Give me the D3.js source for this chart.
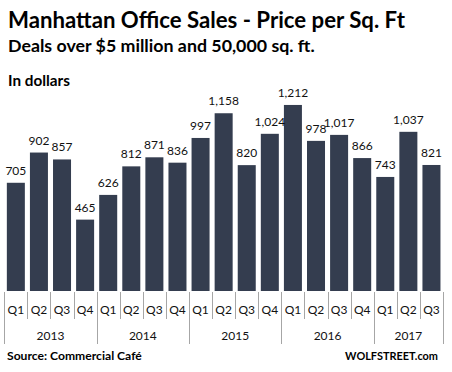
<!DOCTYPE html>
<html>
<head>
<meta charset="utf-8">
<script src="https://cdn.jsdelivr.net/npm/d3@7"></script>
<style>
  body { margin: 0; background: #fff; }
  svg { display: block; }
</style>
</head>
<body>
<svg id="chart1" width="452" height="372"></svg>
<script>
// data
var quarters = ["Q1","Q2","Q3","Q4","Q1","Q2","Q3","Q4","Q1","Q2","Q3","Q4","Q1","Q2","Q3","Q4","Q1","Q2","Q3"];
var years = ["2013","2013","2013","2013","2014","2014","2014","2014","2015","2015","2015","2015","2016","2016","2016","2016","2017","2017","2017"];
var prices = [705, 902, 857, 465, 626, 812, 871, 836, 997, 1158, 820, 1024, 1212, 978, 1017, 866, 743, 1037, 821];

var width = 452;
var height = 372;
var fontFam = "Lato, 'Open Sans', sans-serif";

var svg = d3.select("#chart1");

var keys = prices.map((d, i) => years[i] + quarters[i]);

var x = d3.scaleBand()
    .domain(keys)
    .range([4.3, 443])
    .paddingInner(0.22)
    .paddingOuter(0.11);

var y = d3.scaleLinear()
    .domain([0, 1400])
    .range([291, 76.1]);

// fit text to a target width by changing font size
function fit(sel, w) {
    var node = sel.node();
    var fs = parseFloat(sel.attr("font-size"));
    var len = node.getComputedTextLength();
    sel.attr("font-size", (fs * w / len).toFixed(2));
    return sel;
}

// titles
fit(svg.append("text")
    .attr("x", 8).attr("y", 28)
    .attr("font-family", fontFam).attr("font-weight", "bold")
    .attr("font-size", 20)
    .text("Manhattan Office Sales - Price per Sq. Ft"), 397);

fit(svg.append("text")
    .attr("x", 8).attr("y", 52)
    .attr("font-family", fontFam).attr("font-weight", "bold")
    .attr("font-size", 16)
    .text("Deals over $5 million and 50,000 sq. ft."), 307);

fit(svg.append("text")
    .attr("x", 8).attr("y", 86)
    .attr("font-family", fontFam).attr("font-weight", "bold")
    .attr("font-size", 13)
    .text("In dollars"), 62);

// bars
svg.append("g")
    .selectAll("rect")
    .data(prices)
    .enter()
    .append("rect")
    .attr("x", (d, i) => x(keys[i]))
    .attr("y", d => y(d))
    .attr("width", x.bandwidth())
    .attr("height", d => y(0) - y(d))
    .attr("fill", "#343d4f");

var fmt = d3.format(",");
svg.append("g")
    .selectAll("text")
    .data(prices)
    .enter()
    .append("text")
    .attr("x", (d, i) => x(keys[i]) + x.bandwidth() / 2)
    .attr("y", d => y(d) - 8)
    .attr("text-anchor", "middle")
    .attr("font-family", fontFam)
    .attr("font-size", 12)
    .attr("fill", "#111")
    .text(d => fmt(d));

// category axis: quarter separators and year separators
var axisG = svg.append("g");
var step = x.step();
var left = x(keys[0]) - x.paddingOuter() * step;
var edges = d3.range(keys.length + 1).map(i => left + i * step);

axisG.selectAll("line")
    .data(edges)
    .enter()
    .append("line")
    .attr("x1", d => Math.round(d) + 0.5)
    .attr("x2", d => Math.round(d) + 0.5)
    .attr("y1", 292)
    .attr("y2", (d, i) => (i === 0 || i === keys.length || quarters[i] === "Q1") ? 344 : 319)
    .attr("stroke", "#a6a6a6")
    .attr("stroke-width", 1);

axisG.selectAll("text.q")
    .data(quarters)
    .enter()
    .append("text")
    .attr("class", "q")
    .attr("x", (d, i) => x(keys[i]) + x.bandwidth() / 2)
    .attr("y", 314)
    .attr("text-anchor", "middle")
    .attr("font-family", fontFam)
    .attr("font-size", 12)
    .attr("fill", "#111")
    .text(d => d);

var yearNames = Array.from(new Set(years));
axisG.selectAll("text.yr")
    .data(yearNames)
    .enter()
    .append("text")
    .attr("class", "yr")
    .attr("x", yr => {
        var idx = years.map((v, i) => v === yr ? i : -1).filter(i => i >= 0);
        return (edges[idx[0]] + edges[idx[idx.length - 1] + 1]) / 2;
    })
    .attr("y", 340)
    .attr("text-anchor", "middle")
    .attr("font-family", fontFam)
    .attr("font-size", 12)
    .attr("fill", "#111")
    .text(d => d);

// footer
fit(svg.append("text")
    .attr("x", 7).attr("y", 360)
    .attr("font-family", fontFam).attr("font-weight", "bold")
    .attr("font-size", 12)
    .text("Source: Commercial Café"), 135);

var ws = svg.append("text")
    .attr("x", 438).attr("y", 360)
    .attr("text-anchor", "end")
    .attr("font-family", fontFam).attr("font-weight", "bold")
    .attr("font-size", 12)
    .text("WOLFSTREET.com");
fit(ws, 93);
</script>
</body>
</html>
